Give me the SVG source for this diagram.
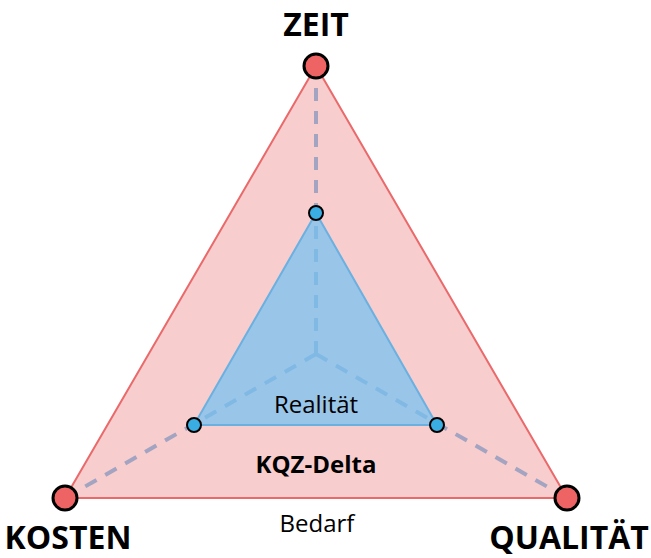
<svg xmlns="http://www.w3.org/2000/svg" width="651" height="558" viewBox="0 0 651 558">
  <style>
    .lbl { font-family: "Open Sans", "Noto Sans", "Liberation Sans", sans-serif; fill: #000; text-anchor: middle; }
    .axis-lbl { font-size: 32px; font-weight: 700; }
    .area-lbl { font-size: 24px; }
    .bold { font-weight: 700; }
    .axis { stroke: #a3a3c2; stroke-width: 4; stroke-dasharray: 13 10; fill: none; }
    .vtx { fill: #ee6464; stroke: #000; stroke-width: 3; }
    .dot { fill: #3aaee2; stroke: #000; stroke-width: 2; }
  </style>

  <!-- Bedarf: outer triangle -->
  <g id="bedarf">
    <polygon points="316,66 65,498 567,498" fill="#f8cdcd" stroke="#ea6a6c" stroke-width="2"/>
  </g>

  <!-- axes from centre to each corner -->
  <g id="connectors">
    <line class="axis" x1="316" y1="354" x2="316" y2="66"/>
    <line class="axis" x1="316" y1="354" x2="65" y2="498"/>
    <line class="axis" x1="316" y1="354" x2="567" y2="498"/>
  </g>

  <!-- Realität: inner triangle -->
  <g id="realitaet">
    <polygon points="316,213 194,425 437,425" fill="#74c2f2" fill-opacity="0.72" stroke="#6ab0e0" stroke-width="2"/>
  </g>

  <g id="zeit">
    <circle class="vtx" cx="316" cy="66" r="12"/>
    <text class="lbl axis-lbl" x="316" y="36">ZEIT</text>
  </g>
  <g id="kosten">
    <circle class="vtx" cx="65" cy="498" r="12"/>
    <text class="lbl axis-lbl" x="68" y="549">KOSTEN</text>
  </g>
  <g id="qualitaet">
    <circle class="vtx" cx="567" cy="498" r="12"/>
    <text class="lbl axis-lbl" x="569" y="549">QUALITÄT</text>
  </g>

  <g id="real-zeit"><circle class="dot" cx="316" cy="213" r="7"/></g>
  <g id="real-kosten"><circle class="dot" cx="194" cy="425" r="7"/></g>
  <g id="real-qualitaet"><circle class="dot" cx="437" cy="425" r="7"/></g>

  <g id="labels">
    <text class="lbl area-lbl" x="316" y="413">Realität</text>
    <text class="lbl area-lbl bold" x="316" y="473">KQZ-Delta</text>
    <text class="lbl area-lbl" x="317" y="532">Bedarf</text>
  </g>
</svg>
